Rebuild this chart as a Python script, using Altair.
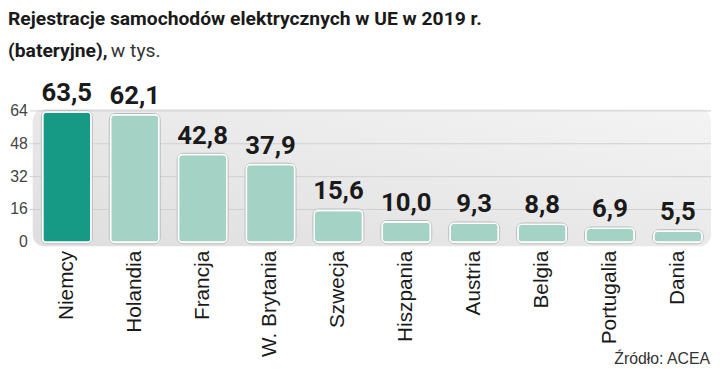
import altair as alt
import pandas as pd

countries = ["Niemcy", "Holandia", "Francja", "W. Brytania", "Szwecja",
             "Hiszpania", "Austria", "Belgia", "Portugalia", "Dania"]
values = [63.5, 62.1, 42.8, 37.9, 15.6, 10.0, 9.3, 8.8, 6.9, 5.5]
y_ticks = [0, 16, 32, 48, 64]
title_line1 = "Rejestracje samochodów elektrycznych w UE w 2019 r."
title_line2_bold = "(bateryjne),"
title_line2_rest = "w tys."
source_text = "Źródło: ACEA"

DARK = "#169985"
LIGHT = "#a3d3c5"
NARROW = "Liberation Sans Narrow, Roboto, sans-serif"
REG = "Liberation Sans, Arial, sans-serif"

df = pd.DataFrame({"country": countries, "value": values})
ticks_df = pd.DataFrame({"value": y_ticks})

base = alt.Chart(df).transform_calculate(
    label="replace(format(datum.value, '.1f'), '.', ',')",
    grp="datum.country == 'Niemcy' ? 'top' : 'rest'",
)

yscale = alt.Scale(domain=[0, 64], nice=False)

xenc = alt.X("country:N", sort=countries,
             scale=alt.Scale(paddingInner=0.287, paddingOuter=0.044),
             axis=alt.Axis(title=None, labelAngle=270, labelAlign="right",
                           labelBaseline="middle", labelFontSize=21,
                           labelFont=REG, labelColor="#1a1a1a",
                           labelPadding=8, ticks=False, domain=False))

panel = alt.Chart(pd.DataFrame({"a": [0]})).mark_rect(
    cornerRadius=12,
    color=alt.LinearGradient(
        gradient="linear", x1=0, y1=1, x2=1, y2=0,
        stops=[alt.GradientStop(color="#dedede", offset=0),
               alt.GradientStop(color="#f4f4f4", offset=1)]),
).encode(x=alt.value(-7), x2=alt.value(679), y=alt.value(-2), y2=alt.value(137))

gridrules = alt.Chart(ticks_df).transform_filter("datum.value > 0").mark_rule(
    color="#cfcfcf", strokeWidth=1).encode(
    y=alt.Y("value:Q", scale=yscale, axis=None),
    x=alt.value(-10), x2=alt.value(679))

ylabels = alt.Chart(ticks_df).mark_text(
    font=REG, fontSize=16, color="#444444", align="right",
    baseline="middle").encode(
    y=alt.Y("value:Q", scale=yscale, axis=None),
    x=alt.value(-12), text="value:Q")

axes = base.mark_bar(opacity=0).encode(
    x=xenc, y=alt.Y("value:Q", scale=yscale, axis=None))

shadow = base.mark_bar(cornerRadius=5, stroke="#b9b9b9", strokeWidth=3.5,
                       fill="#b9b9b9").encode(
    x=alt.X("country:N", sort=countries), y=alt.Y("value:Q"))

bars = base.mark_bar(cornerRadius=4, stroke="white", strokeWidth=1.6).encode(
    x=alt.X("country:N", sort=countries), y=alt.Y("value:Q"),
    color=alt.Color("grp:N", scale=alt.Scale(domain=["top", "rest"],
                                             range=[DARK, LIGHT]), legend=None))

labels = base.mark_text(font=NARROW, fontWeight="bold", fontSize=26,
                        color="#1a1a1a", baseline="bottom", dy=-6).encode(
    x=alt.X("country:N", sort=countries), y=alt.Y("value:Q"), text="label:N")

def txt(s, x, y, size, weight, color, font, align="left"):
    return alt.Chart(pd.DataFrame({"t": [s]})).mark_text(
        font=font, fontSize=size, fontWeight=weight, color=color,
        align=align, baseline="alphabetic").encode(
        x=alt.value(x), y=alt.value(y), text="t:N")

t1 = txt(title_line1, -32, -87, 19.5, "bold", "#1a1a1a", NARROW)
t2 = txt(title_line2_bold, -32, -55, 19.5, "bold", "#1a1a1a", NARROW)
t3 = txt(title_line2_rest, 72, -55, 19.5, "normal", "#333333", NARROW)
src = txt(source_text, 678, 256, 16, "normal", "#333333", REG, align="right")

chart = alt.layer(panel, gridrules, ylabels, axes, shadow, bars, labels,
                  t1, t2, t3, src).properties(
    width=673, height=133,
    autosize=alt.AutoSizeParams(type="none"),
    padding={"left": 32, "top": 102, "right": 7, "bottom": 128},
).configure_view(stroke=None).configure(background="white")

chart.save("out.html", embed_options={"renderer": "svg", "actions": False})
